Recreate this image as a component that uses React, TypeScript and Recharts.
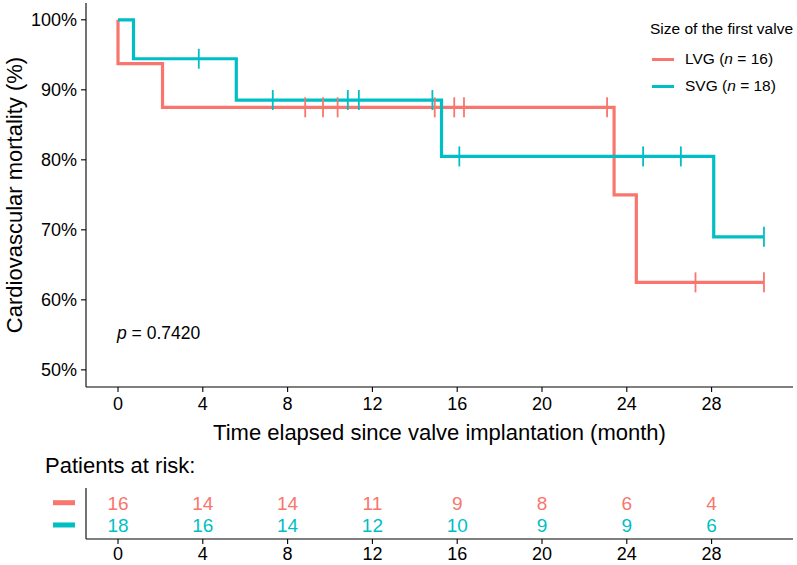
import React from "react";
import {
  ComposedChart,
  ScatterChart,
  Line,
  Scatter,
  XAxis,
  YAxis,
  Label,
} from "recharts";

const RED = "#F8766D";
const CYAN = "#00BFC4";
const FONT = "'Liberation Sans', Arial, Helvetica, sans-serif";

// step curves (month, survival %)
const lvgTimes = [0, 0, 2.1, 23.4, 24.45, 30.47];
const lvgSurv = [100, 93.75, 87.5, 75, 62.5, 62.5];
const svgTimes = [0, 0.73, 5.58, 15.26, 28.1, 30.47];
const svgSurv = [100, 94.44, 88.54, 80.49, 69.0, 69.0];

// censored observations
const lvgCensorTimes = [8.83, 9.67, 10.36, 14.94, 15.86, 16.32, 23.07, 27.24, 30.47];
const lvgCensorSurv = [87.5, 87.5, 87.5, 87.5, 87.5, 87.5, 87.5, 62.5, 62.5];
const svgCensorTimes = [3.81, 7.3, 10.84, 11.36, 14.83, 16.1, 24.77, 26.55, 30.47];
const svgCensorSurv = [94.44, 88.54, 88.54, 88.54, 88.54, 80.49, 80.49, 80.49, 69.0];

// risk table
const riskTimes = [0, 4, 8, 12, 16, 20, 24, 28];
const lvgRisk = [16, 14, 14, 11, 9, 8, 6, 4];
const svgRisk = [18, 16, 14, 12, 10, 9, 9, 6];

const xTicks = [0, 4, 8, 12, 16, 20, 24, 28];
const yTicks = [50, 60, 70, 80, 90, 100];

const zip = (t: number[], s: number[]) => t.map((v, i) => ({ t: v, s: s[i] }));

const lvgCurve = zip(lvgTimes, lvgSurv);
const svgCurve = zip(svgTimes, svgSurv);
const lvgCensor = zip(lvgCensorTimes, lvgCensorSurv);
const svgCensor = zip(svgCensorTimes, svgCensorSurv);

const lvgRow = riskTimes.map((t, i) => ({ t, row: 1, n: lvgRisk[i] }));
const svgRow = riskTimes.map((t, i) => ({ t, row: 0, n: svgRisk[i] }));

const censorShape = (color: string) => (props: any) => {
  const { cx, cy } = props;
  return <line x1={cx} x2={cx} y1={cy - 10} y2={cy + 10} stroke={color} strokeWidth={1.8} />;
};

const riskText = (color: string) => (props: any) => {
  const { cx, cy, payload } = props;
  return (
    <text x={cx} y={cy} dy="0.36em" textAnchor="middle" fill={color} fontSize={19} fontFamily={FONT}>
      {payload.n}
    </text>
  );
};

const RowTick = (props: any) => {
  const { y, payload } = props;
  return <rect x={53} y={y - 2.5} width={22} height={5} fill={payload.value === 1 ? RED : CYAN} />;
};

const tickStyle = { fontSize: 18, fill: "#000", fontFamily: FONT };
const axisLine = { stroke: "#000", strokeWidth: 1.1 };

export default function App() {
  return (
    <div
      style={{
        position: "absolute",
        left: 0,
        top: 0,
        width: 797,
        height: 565,
        background: "#fff",
        fontFamily: FONT,
        color: "#000",
      }}
    >
      <ComposedChart width={797} height={450} margin={{ top: 3, right: 4, left: 0, bottom: 0 }}>
        <XAxis
          type="number"
          dataKey="t"
          domain={[-1.51, 31.84]}
          allowDataOverflow
          ticks={xTicks}
          interval={0}
          tickSize={5}
          tickMargin={5}
          height={63}
          tick={tickStyle}
          axisLine={axisLine}
          tickLine={axisLine}
        >
          <Label
            value="Time elapsed since valve implantation (month)"
            position="insideBottom"
            offset={10}
            style={{ fontSize: 22, fill: "#000", fontFamily: FONT }}
          />
        </XAxis>
        <YAxis
          type="number"
          dataKey="s"
          domain={[47.55, 102.4]}
          allowDataOverflow
          ticks={yTicks}
          interval={0}
          tickFormatter={(v: number) => `${v}%`}
          tickSize={5}
          tickMargin={4}
          width={86}
          tick={tickStyle}
          axisLine={axisLine}
          tickLine={axisLine}
        >
          <Label
            value="Cardiovascular mortality (%)"
            angle={-90}
            position="insideLeft"
            offset={14}
            style={{ fontSize: 22, fill: "#000", fontFamily: FONT, textAnchor: "middle" }}
          />
        </YAxis>
        <Line data={lvgCurve} dataKey="s" type="stepAfter" stroke={RED} strokeWidth={3.2} dot={false} isAnimationActive={false} />
        <Line data={svgCurve} dataKey="s" type="stepAfter" stroke={CYAN} strokeWidth={3.2} dot={false} isAnimationActive={false} />
        <Scatter data={lvgCensor} dataKey="s" shape={censorShape(RED)} isAnimationActive={false} />
        <Scatter data={svgCensor} dataKey="s" shape={censorShape(CYAN)} isAnimationActive={false} />
      </ComposedChart>

      {/* legend */}
      <div style={{ position: "absolute", left: 650, top: 19, fontSize: 15.5, whiteSpace: "nowrap", lineHeight: "20px" }}>
        Size of the first valve
      </div>
      {[
        { label: "LVG", n: 16, color: RED, y: 59 },
        { label: "SVG", n: 18, color: CYAN, y: 86 },
      ].map((d) => (
        <div key={d.label} style={{ position: "absolute", left: 652, top: d.y - 10, height: 20, display: "flex", alignItems: "center", whiteSpace: "nowrap", fontSize: 15.5 }}>
          <span style={{ display: "inline-block", width: 22, height: 3, background: d.color, marginRight: 11 }} />
          <span>
            {d.label} (<i>n</i> = {d.n})
          </span>
        </div>
      ))}

      {/* p value */}
      <div style={{ position: "absolute", left: 117, top: 322, fontSize: 17.5, lineHeight: "22px", whiteSpace: "nowrap" }}>
        <i>p</i> = 0.7420
      </div>

      {/* risk table */}
      <div style={{ position: "absolute", left: 45, top: 453, fontSize: 22, lineHeight: "26px", whiteSpace: "nowrap" }}>
        Patients at risk:
      </div>
      <div style={{ position: "absolute", left: 0, top: 450 }}>
        <ScatterChart width={797} height={115} margin={{ top: 38, right: 4, left: 0, bottom: 0 }}>
          <XAxis
            type="number"
            dataKey="t"
            domain={[-1.51, 31.84]}
            allowDataOverflow
            ticks={xTicks}
            interval={0}
            tickSize={5}
            tickMargin={3}
            height={26}
            tick={tickStyle}
            axisLine={axisLine}
            tickLine={axisLine}
          />
          <YAxis
            type="number"
            dataKey="row"
            domain={[-0.63, 1.66]}
            allowDataOverflow
            ticks={[0, 1]}
            interval={0}
            width={86}
            tick={<RowTick />}
            tickLine={false}
            axisLine={axisLine}
          />
          <Scatter data={lvgRow} dataKey="row" shape={riskText(RED)} isAnimationActive={false} />
          <Scatter data={svgRow} dataKey="row" shape={riskText(CYAN)} isAnimationActive={false} />
        </ScatterChart>
      </div>
    </div>
  );
}
